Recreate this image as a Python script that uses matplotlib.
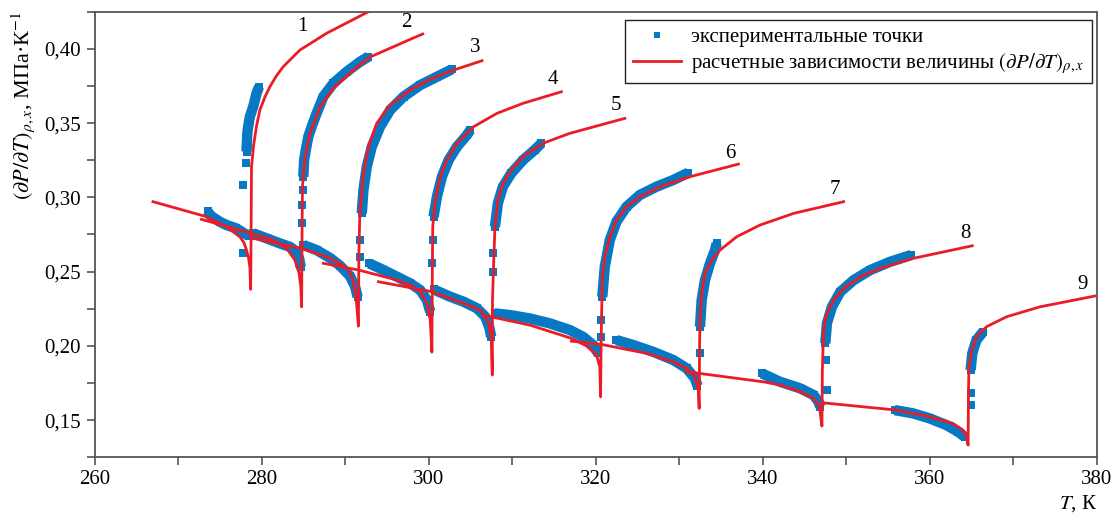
import matplotlib
matplotlib.use('Agg')
import matplotlib.pyplot as plt
from matplotlib.lines import Line2D
from matplotlib.ticker import MultipleLocator, FuncFormatter

plt.rcParams['font.family'] = ['Liberation Serif', 'DejaVu Serif']
plt.rcParams['mathtext.fontset'] = 'stix'

# расчетные кривые (T, K; dP/dT, МПа/К): двухфазная ветвь -> излом -> однофазная ветвь
calc_1 = [(267.0, 0.2971), (273.4, 0.2870), (275.8, 0.2802), (277.4, 0.2735), (277.9, 0.2695), (278.2, 0.2645),
          (278.45, 0.2590), (278.6, 0.2533), (278.7, 0.2381), (278.75, 0.2758), (278.8, 0.3206), (279.05, 0.3350),
          (279.4, 0.3480), (279.8, 0.3588), (280.4, 0.3675), (281.0, 0.3745), (281.8, 0.3820), (282.6, 0.3880),
          (284.6, 0.3992), (287.8, 0.4105), (292.8, 0.4250)]
calc_2 = [(272.8, 0.2852), (277.4, 0.2780), (281.4, 0.2713), (283.0, 0.2657), (284.0, 0.2578), (284.5, 0.2488),
          (284.7, 0.2400), (284.8, 0.2263), (284.85, 0.2758), (284.9, 0.3072), (285.2, 0.3274), (285.8, 0.3431),
          (287.0, 0.3610), (288.6, 0.3735), (291.0, 0.3857), (293.0, 0.3945), (298.1, 0.4071), (299.3, 0.4100)]
calc_3 = [(279.0, 0.2724), (284.8, 0.2657), (288.2, 0.2591), (289.4, 0.2554), (290.4, 0.2511), (290.95, 0.2443),
          (291.3, 0.2342), (291.6, 0.2133), (291.65, 0.2600), (291.75, 0.2850), (291.9, 0.2982), (292.2, 0.3162),
          (292.8, 0.3341), (293.8, 0.3499), (295.4, 0.3622), (297.8, 0.3723), (300.2, 0.3795), (303.0, 0.3857),
          (306.4, 0.3920)]
calc_4 = [(287.4, 0.2556), (291.6, 0.2511), (296.2, 0.2444), (297.8, 0.2411), (299.0, 0.2365), (299.8, 0.2286),
          (300.2, 0.2174), (300.4, 0.1958), (300.45, 0.2488), (300.5, 0.2802), (300.8, 0.2982), (301.4, 0.3139),
          (302.2, 0.3251), (303.4, 0.3364), (305.4, 0.3476), (308.2, 0.3566), (311.3, 0.3633), (315.9, 0.3711)]
calc_5 = [(294.0, 0.2432), (300.4, 0.2365), (304.2, 0.2286), (306.2, 0.2241), (307.2, 0.2152), (307.5, 0.2061),
          (307.63, 0.1804), (307.65, 0.2300), (307.75, 0.2488), (307.95, 0.2802), (308.3, 0.2982), (308.9, 0.3094),
          (309.9, 0.3184), (311.3, 0.3274), (313.7, 0.3364), (316.9, 0.3431), (320.1, 0.3480), (323.5, 0.3532)]
calc_6 = [(306.9, 0.2203), (312.2, 0.2139), (317.1, 0.2051), (318.9, 0.2000), (320.1, 0.1940), (320.5, 0.1859),
          (320.6, 0.1657), (320.65, 0.2000), (320.7, 0.2152), (320.8, 0.2443), (321.1, 0.2600), (321.7, 0.2735),
          (322.5, 0.2847), (323.7, 0.2937), (325.3, 0.3004), (327.7, 0.3072), (331.3, 0.3139), (337.1, 0.3224)]
calc_7 = [(317.1, 0.2032), (320.6, 0.2011), (326.1, 0.1950), (329.3, 0.1893), (330.9, 0.1849), (331.9, 0.1792),
          (332.3, 0.1703), (332.4, 0.1579), (332.45, 0.2004), (332.5, 0.2174), (332.7, 0.2354), (333.1, 0.2488),
          (333.9, 0.2578), (334.9, 0.2645), (336.9, 0.2735), (339.7, 0.2814), (343.7, 0.2892), (349.7, 0.2971)]
calc_8 = [(330.8, 0.1830), (332.4, 0.1815), (340.1, 0.1758), (342.1, 0.1736), (344.5, 0.1691), (346.1, 0.1647),
          (346.8, 0.1590), (347.1, 0.1460), (347.15, 0.1837), (347.3, 0.2107), (347.7, 0.2219), (348.5, 0.2309),
          (349.7, 0.2387), (351.7, 0.2466), (354.1, 0.2522), (358.0, 0.2589), (365.1, 0.2674)]
calc_9 = [(347.2, 0.1617), (356.0, 0.1568), (360.0, 0.1523), (362.8, 0.1478), (364.0, 0.1433), (364.4, 0.1390),
          (364.6, 0.1332), (364.65, 0.1680), (364.7, 0.1859), (365.0, 0.1960), (365.6, 0.2061), (366.8, 0.2129),
          (369.2, 0.2196), (373.2, 0.2263), (379.8, 0.2336)]

# экспериментальные точки: полосы ниже излома (двухфазная область)
exp_lo_1 = [(273.6, 0.2905), (273.8, 0.2881), (275.0, 0.2836), (275.8, 0.2814), (277.0, 0.2791), (277.8, 0.2762),
            (278.5, 0.2740)]
exp_lo_2 = [(279.0, 0.2758), (280.6, 0.2724), (282.2, 0.2690), (283.4, 0.2667), (284.2, 0.2634), (284.5, 0.2589),
            (284.7, 0.2530)]
exp_lo_3 = [(285.0, 0.2679), (286.6, 0.2645), (288.2, 0.2592), (289.4, 0.2540), (290.6, 0.2470), (291.2, 0.2400),
            (291.5, 0.2330)]
exp_lo_4 = [(292.9, 0.2555), (294.6, 0.2511), (296.2, 0.2466), (297.8, 0.2421), (299.0, 0.2376), (299.8, 0.2309),
            (300.2, 0.2230)]
exp_lo_5 = [(300.6, 0.2380), (302.6, 0.2331), (304.2, 0.2297), (305.8, 0.2253), (306.8, 0.2196), (307.3, 0.2118),
            (307.5, 0.2061)]
exp_lo_6 = [(307.9, 0.2219), (309.7, 0.2208), (312.1, 0.2185), (314.5, 0.2152), (316.9, 0.2107), (318.5, 0.2061),
            (319.7, 0.2006), (320.3, 0.1950)]
exp_lo_7 = [(322.5, 0.2039), (324.5, 0.2006), (326.9, 0.1960), (329.3, 0.1905), (330.9, 0.1849), (331.9, 0.1781),
            (332.2, 0.1730)]
exp_lo_8 = [(339.9, 0.1815), (342.1, 0.1758), (344.5, 0.1714), (346.1, 0.1669), (346.7, 0.1624), (346.9, 0.1590)]
exp_lo_9 = [(355.8, 0.1568), (358.0, 0.1546), (360.0, 0.1512), (362.0, 0.1467), (363.4, 0.1422), (364.2, 0.1388)]

# экспериментальные точки: полосы выше излома (однофазная область)
exp_hi_1 = [(278.2, 0.3308), (278.3, 0.3431), (278.4, 0.3476), (278.6, 0.3543), (279.0, 0.3610), (279.2, 0.3655),
            (279.4, 0.3700), (279.7, 0.3745)]
exp_hi_2 = [(285.0, 0.3139), (285.1, 0.3251), (285.3, 0.3319), (285.6, 0.3408), (286.0, 0.3476), (286.6, 0.3566),
            (287.4, 0.3678), (288.6, 0.3768), (290.2, 0.3846), (291.8, 0.3913), (292.8, 0.3947)]
exp_hi_3 = [(292.0, 0.2892), (292.2, 0.3049), (292.6, 0.3206), (293.2, 0.3341), (294.2, 0.3476), (295.4, 0.3588),
            (297.0, 0.3678), (299.0, 0.3756), (301.0, 0.3812), (302.8, 0.3862)]
exp_hi_4 = [(300.6, 0.2870), (301.0, 0.3004), (301.6, 0.3139), (302.4, 0.3251), (303.4, 0.3341), (304.6, 0.3420),
            (305.0, 0.3453)]
exp_hi_5 = [(307.95, 0.2802), (308.3, 0.2960), (308.9, 0.3072), (309.9, 0.3162), (311.3, 0.3251), (312.7, 0.3319),
            (313.5, 0.3364)]
exp_hi_6 = [(320.8, 0.2330), (321.1, 0.2533), (321.7, 0.2713), (322.5, 0.2836), (323.7, 0.2937), (325.3, 0.3016),
            (327.3, 0.3072), (329.3, 0.3117), (331.1, 0.3166)]
exp_hi_7 = [(332.5, 0.2129), (332.7, 0.2309), (333.1, 0.2443), (333.7, 0.2556), (334.3, 0.2645), (334.5, 0.2690)]
exp_hi_8 = [(347.5, 0.2017), (347.7, 0.2152), (348.3, 0.2263), (349.3, 0.2364), (350.9, 0.2443), (352.9, 0.2511),
            (355.3, 0.2567), (357.8, 0.2612)]
exp_hi_9 = [(364.9, 0.1837), (365.1, 0.1950), (365.6, 0.2039), (366.4, 0.2095)]

# отдельные точки у изломов
exp_single_T = [277.8, 278.1, 277.8, 284.9, 284.9, 284.95, 291.75, 291.8, 300.5, 300.45, 307.75, 307.7,
                320.7, 320.7, 332.45, 347.6, 347.7, 364.9, 364.9]
exp_single_y = [0.3083, 0.3229, 0.2623, 0.2825, 0.2950, 0.3049, 0.2600, 0.2713, 0.2713, 0.2560, 0.2623, 0.2500,
                0.2174, 0.2060, 0.1950, 0.1905, 0.1703, 0.1680, 0.1600]

# номера изохор и места подписей
iso_numbers = ['1', '2', '3', '4', '5', '6', '7', '8', '9']
label_T = [284.9, 297.3, 305.6, 314.9, 322.4, 336.1, 348.6, 364.3, 378.3]
label_y = [0.4150, 0.4174, 0.4010, 0.3795, 0.3617, 0.3292, 0.3056, 0.2758, 0.2416]

blue = '#0779c3'
red = '#ec1c27'

calc = [calc_1, calc_2, calc_3, calc_4, calc_5, calc_6, calc_7, calc_8, calc_9]
exp_bands = [exp_lo_1, exp_lo_2, exp_lo_3, exp_lo_4, exp_lo_5, exp_lo_6, exp_lo_7, exp_lo_8, exp_lo_9,
             exp_hi_1, exp_hi_2, exp_hi_3, exp_hi_4, exp_hi_5, exp_hi_6, exp_hi_7, exp_hi_8, exp_hi_9]

fig = plt.figure(figsize=(11.17, 5.15), dpi=100)
ax = fig.add_axes([94.5 / 1117, 1 - 457.3 / 515, (1096.7 - 94.5) / 1117, (457.3 - 11.7) / 515])

for band in exp_bands:
    t, p = zip(*band)
    ax.plot(t, p, color=blue, lw=7.5, marker='s', ms=6, mew=0, solid_capstyle='butt', zorder=2)
ax.plot(exp_single_T, exp_single_y, ls='none', color=blue, marker='s', ms=5.5, mew=0, zorder=2)

for curve in calc:
    t, p = zip(*curve)
    ax.plot(t, p, color=red, lw=2.0, zorder=3)

for n, tx, ty in zip(iso_numbers, label_T, label_y):
    ax.text(tx, ty, n, fontsize=15, ha='center', va='center')

ax.set_xlim(260, 380)
ax.set_ylim(0.125, 0.425)
ax.xaxis.set_major_locator(MultipleLocator(20))
ax.xaxis.set_minor_locator(MultipleLocator(10))
ax.yaxis.set_major_locator(MultipleLocator(0.05))
ax.yaxis.set_minor_locator(MultipleLocator(0.025))
ax.yaxis.set_major_formatter(FuncFormatter(lambda v, pos: f'{v:.2f}'.replace('.', ',')))
ax.tick_params(which='both', direction='out', length=6, width=1.2, color='#555555', labelsize=15)
ax.tick_params(axis='x', pad=3)
ax.tick_params(axis='y', pad=4)
for s in ax.spines.values():
    s.set_color('#555555')
    s.set_linewidth(1.3)

ax.set_ylabel(r'$(\partial P/\partial T)_{\rho,x}$, МПа·К$^{-1}$', fontsize=16, loc='top', labelpad=5)
ax.set_xlabel(r'$T$, К', fontsize=15, loc='right', labelpad=3)

handles = [Line2D([], [], ls='none', marker='s', ms=5, mew=0, color=blue),
           Line2D([], [], color=red, lw=2.0)]
labels = ['экспериментальные точки', r'расчетные зависимости величины $(\partial P/\partial T)_{\rho,x}$']
leg = ax.legend(handles, labels, loc='upper right', bbox_to_anchor=(0.995, 0.981), borderaxespad=0,
                fontsize=15, frameon=True, fancybox=False, framealpha=1, edgecolor='#222222',
                handlelength=2.3, handletextpad=0.5, borderpad=0.35, labelspacing=0.2)
leg.get_frame().set_linewidth(1.0)

fig.savefig('out.png', dpi=100)
